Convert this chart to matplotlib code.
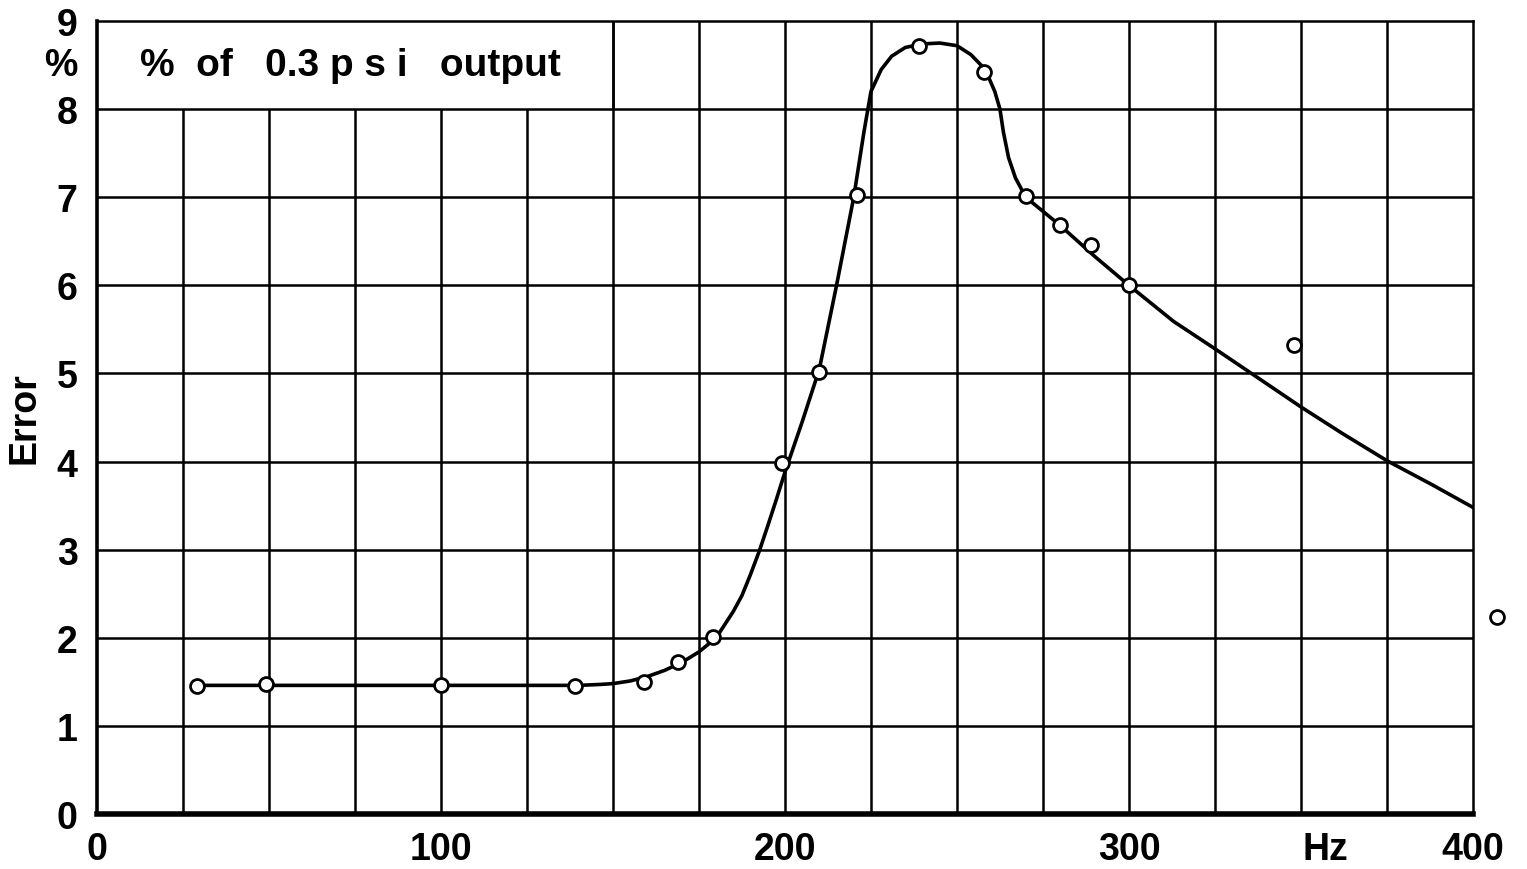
import numpy as np
import matplotlib
matplotlib.use("Agg")
import matplotlib.pyplot as plt

plt.rcParams["font.family"] = ["Liberation Sans", "DejaVu Sans"]
plt.rcParams["font.weight"] = "bold"

# measured points (Hz, error %)
freq = [29, 49, 100, 139, 159, 169, 179, 199, 210, 221, 239, 258, 270, 280, 289, 300, 348, 407]
err = [1.45, 1.47, 1.46, 1.45, 1.50, 1.72, 2.01, 3.98, 5.02, 7.03, 8.72, 8.42, 7.01, 6.68, 6.46, 6.00, 5.32, 2.24]

# faired curve
curve_x = [29, 60, 100, 140, 146, 150, 155, 160, 165, 170, 175, 180, 185, 187.5, 190,
           192.5, 195, 197.5, 200, 205, 210, 215, 220, 223, 225, 228, 231, 235, 240, 245,
           250, 254, 257, 259, 261, 262.5, 263.5, 265, 267, 270, 275, 280, 290, 300,
           313, 325, 336, 350, 362, 375, 388, 400]
curve_y = [1.46, 1.46, 1.46, 1.46, 1.47, 1.48, 1.51, 1.56, 1.63, 1.72, 1.84, 2.0, 2.3,
           2.48, 2.72, 2.98, 3.27, 3.57, 3.88, 4.45, 5.05, 6.0, 7.0, 7.75, 8.2, 8.45, 8.6,
           8.7, 8.74, 8.75, 8.72, 8.62, 8.5, 8.38, 8.2, 8.0, 7.74, 7.45, 7.22, 7.0, 6.84,
           6.68, 6.33, 6.0, 5.59, 5.28, 4.99, 4.62, 4.32, 4.01, 3.74, 3.48]

xtick_vals = [0, 100, 200, 300, 400]
ytick_vals = list(range(10))

fig = plt.figure(figsize=(15.27, 8.70), dpi=100)
ax = fig.add_axes([0.0635, 0.0632, 0.9011, 0.9115])
ax.set_xlim(0, 400)
ax.set_ylim(0, 9)

# grid (no lines inside the label box at top left)
for gx in np.arange(25, 400, 25):
    top = 8 if gx < 150 else 9
    ax.vlines(gx, 0, top, color="black", lw=1.8, zorder=1)
ax.vlines(150, 8, 9, color="black", lw=1.8, zorder=1)
for gy in range(1, 9):
    ax.hlines(gy, 0, 400, color="black", lw=1.8, zorder=1)

for s in ["top", "right"]:
    ax.spines[s].set_linewidth(1.8)
ax.spines["left"].set_linewidth(2.6)
ax.spines["bottom"].set_linewidth(4)

ax.plot(curve_x, curve_y, color="black", lw=2.6, zorder=2)
ax.plot(freq, err, "o", ms=10, mfc="white", mec="black", mew=2, zorder=3, clip_on=False)

ax.set_xticks(xtick_vals)
ax.set_xticklabels([str(v) for v in xtick_vals])
ax.set_yticks(ytick_vals)
ax.tick_params(length=0, labelsize=27)
ax.tick_params(axis="x", pad=12)
ax.tick_params(axis="y", pad=14)

ax.text(357, -0.044, "Hz", transform=ax.get_xaxis_transform(), fontsize=27,
        ha="center", va="center")
ax.text(-0.014, 0.945, "%", transform=ax.transAxes, fontsize=27, ha="right", va="center")
ax.set_ylabel("Error", fontsize=27, fontweight="bold", labelpad=10)
ax.text(12.5, 8.5, "%  of   0.3 p s i   output", fontsize=28, ha="left", va="center")

fig.savefig("out.png", dpi=100)
